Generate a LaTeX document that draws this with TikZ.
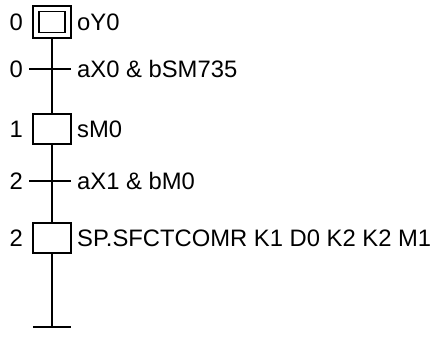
\documentclass[tikz,border=0pt]{standalone}
\usepackage{fontspec}
\setmainfont{Liberation Sans}
\begin{document}
\begin{tikzpicture}[x=1pt,y=1pt,
  ln/.style={line width=1.6pt},
  stepbox/.style={draw,ln,rectangle,minimum width=38pt,minimum height=30pt,inner sep=0pt},
  trans/.style={rectangle,minimum width=41pt,minimum height=0pt,inner sep=0pt},
  lbl/.style={anchor=west,inner sep=0pt,font=\fontsize{23.8pt}{27pt}\selectfont},
  num/.style={anchor=east,inner sep=0pt,font=\fontsize{23.8pt}{27pt}\selectfont}]
\useasboundingbox (0,0) rectangle (434,338);
% initial step
\node[stepbox,minimum height=32pt] (s0) at (52,316) {};
\node[draw,ln,rectangle,minimum width=26pt,minimum height=21pt,inner sep=0pt] (s0i) at (52,316) {};
\node[num] (n0) at (23,316) {0};
\node[lbl] (a0) at (77,316) {oY0};
% transition 0
\node[trans] (t0) at (50,269) {};
\node[num] (nt0) at (23,269) {0};
\node[lbl] (c0) at (77,269) {aX0 \& bSM735};
% step 1
\node[stepbox] (s1) at (52,209) {};
\node[num] (n1) at (23,209) {1};
\node[lbl] (a1) at (77,209) {sM0};
% transition 1
\node[trans] (t1) at (50,157) {};
\node[num] (nt1) at (23,157) {2};
\node[lbl] (c1) at (77,157) {aX1 \& bM0};
% step 2
\node[stepbox] (s2) at (52,100) {};
\node[num] (n2) at (23,100) {2};
\node[lbl] (a2) at (77,100) {SP.SFCTCOMR K1 D0 K2 K2 M1};
% end bar
\node[trans,minimum width=38pt] (e) at (52,11) {};
\draw[ln] (s0.south) -- (s1.north);
\draw[ln] (s1.south) -- (s2.north);
\draw[ln] (s2.south) -- (e.center);
\draw[ln] (t0.west) -- (t0.east);
\draw[ln] (t1.west) -- (t1.east);
\draw[ln] (e.west) -- (e.east);
\end{tikzpicture}
\end{document}
